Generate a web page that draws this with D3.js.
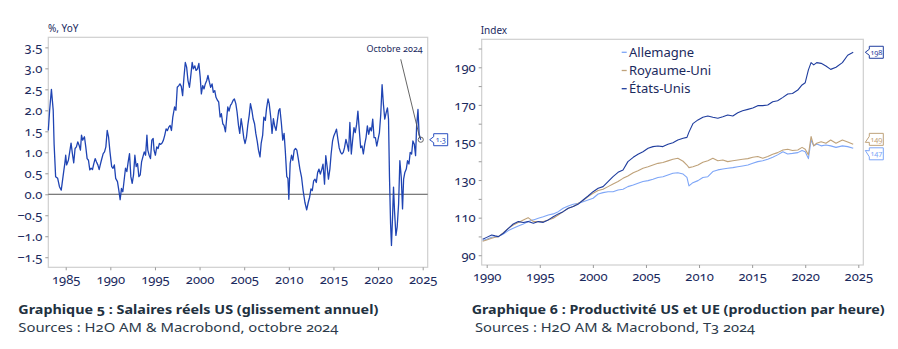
<!DOCTYPE html>
<html>
<head>
<meta charset="utf-8">
<script src="https://cdn.jsdelivr.net/npm/d3@7"></script>
<style>
  body { margin: 0; background: #fff; }
  svg text { font-family: "Noto Sans", "Open Sans", sans-serif; font-variant-numeric: oldstyle-nums; }
</style>
</head>
<body>
<svg id="chart" width="898" height="349"></svg>
<script>
// ---- graphique 5 : salaires réels US (glissement annuel, %)
const wageDates = [1983.05,1983.2,1983.4,1983.6,1983.7,1983.87,1984.1,1984.3,1984.5,1984.6,1984.8,1984.9,1985.0,1985.1,1985.3,1985.45,1985.6,1985.75,1985.9,
  1986.05,1986.2,1986.35,1986.5,1986.65,1986.77,1986.9,1987.1,1987.25,1987.4,1987.55,1987.7,1987.85,1988.0,1988.15,1988.3,1988.45,1988.6,1988.75,1988.87,
  1989.0,1989.2,1989.35,1989.5,1989.65,1989.8,1989.96,1990.15,1990.3,1990.45,1990.6,1990.8,1990.95,1991.1,1991.25,1991.4,1991.55,1991.7,1991.85,
  1992.0,1992.15,1992.3,1992.45,1992.6,1992.75,1992.9,1993.05,1993.2,1993.35,1993.5,1993.65,1993.8,1993.95,1994.1,1994.2,1994.35,1994.5,1994.65,1994.8,1994.9,
  1995.05,1995.2,1995.35,1995.5,1995.65,1995.8,1995.95,1996.1,1996.25,1996.4,1996.55,1996.7,1996.85,1997.0,1997.1,1997.2,1997.35,1997.5,1997.67,1997.8,1997.95,
  1998.1,1998.25,1998.4,1998.55,1998.7,1998.87,1999.0,1999.17,1999.3,1999.47,1999.6,1999.77,1999.92,2000.07,2000.2,2000.35,2000.5,2000.64,2000.8,2000.94,
  2001.1,2001.24,2001.4,2001.54,2001.7,2001.84,2002.0,2002.14,2002.3,2002.44,2002.6,2002.74,2002.9,2003.05,2003.16,2003.3,2003.46,2003.6,2003.76,2003.9,
  2004.06,2004.2,2004.36,2004.5,2004.66,2004.8,2004.96,2005.1,2005.26,2005.4,2005.56,2005.7,2005.86,2006.0,2006.16,2006.3,2006.47,2006.6,2006.77,2006.9,
  2007.07,2007.2,2007.37,2007.5,2007.67,2007.8,2007.97,2008.12,2008.27,2008.4,2008.57,2008.72,2008.87,2009.0,2009.17,2009.32,2009.47,2009.6,2009.77,2009.9,
  2010.0,2010.15,2010.3,2010.45,2010.6,2010.75,2010.9,2011.05,2011.24,2011.43,2011.6,2011.8,2012.0,2012.18,2012.33,2012.48,2012.63,2012.78,2012.93,
  2013.08,2013.23,2013.38,2013.53,2013.7,2013.83,2014.0,2014.14,2014.3,2014.44,2014.6,2014.74,2014.9,2015.04,2015.2,2015.34,2015.5,2015.64,2015.8,2015.94,
  2016.1,2016.24,2016.4,2016.54,2016.7,2016.84,2017.0,2017.14,2017.3,2017.44,2017.6,2017.74,2017.9,2018.05,2018.2,2018.35,2018.5,2018.65,2018.8,2018.95,
  2019.1,2019.25,2019.4,2019.55,2019.7,2019.85,2020.0,2020.15,2020.3,2020.45,2020.6,2020.75,2020.9,2021.05,2021.17,2021.28,2021.4,2021.5,2021.62,2021.73,
  2021.84,2022.0,2022.14,2022.3,2022.44,2022.6,2022.74,2022.86,2023.0,2023.16,2023.3,2023.46,2023.6,2023.76,2023.9,2024.06,2024.2,2024.32,2024.47,2024.6,2024.78];
const wageValues = [1.52,2.0,2.5,2.0,1.2,0.42,0.38,0.18,0.1,0.26,0.58,0.73,0.93,0.7,0.81,1.01,1.22,0.97,0.75,
  1.09,1.13,1.25,1.17,1.05,1.41,1.29,1.37,1.13,0.85,0.81,0.58,0.62,0.59,0.73,0.85,0.77,0.7,0.59,0.7,
  0.81,0.97,1.01,1.13,1.52,1.37,1.01,0.66,0.62,0.7,0.38,0.3,0.1,-0.13,0.14,0.06,0.34,0.62,0.54,
  0.77,0.97,0.42,0.26,0.46,0.93,0.66,0.73,0.42,0.46,0.77,0.89,1.01,0.93,1.41,1.05,0.93,0.85,1.29,1.33,1.05,
  0.93,1.13,1.09,1.21,1.19,1.22,1.29,1.41,1.56,1.52,1.6,1.64,1.52,1.84,1.96,2.08,2.0,2.55,2.59,2.63,2.57,
  2.35,2.79,3.14,3.03,2.71,2.55,2.79,3.14,2.99,3.06,2.95,2.99,3.12,2.79,2.39,2.59,2.51,2.63,2.71,2.83,
  2.67,2.55,2.63,2.43,2.47,2.31,2.24,2.2,1.84,1.92,1.68,1.64,1.49,1.84,2.08,1.98,2.12,2.16,2.24,2.27,
  2.16,1.96,1.64,1.45,1.8,1.6,1.33,1.21,1.37,1.64,1.88,2.16,2.0,1.8,1.68,1.45,1.25,1.05,0.89,1.21,
  1.41,1.84,1.76,2.04,2.27,2.16,1.84,1.45,1.8,1.64,1.52,1.76,2.0,2.04,1.68,1.29,1.45,1.05,0.42,0.38,
  -0.12,0.73,0.93,0.81,1.05,1.09,1.05,0.86,0.6,0.4,0.09,-0.19,-0.37,-0.19,-0.07,0.13,0.09,0.32,0.36,
  0.28,0.52,0.6,0.48,0.6,0.72,0.24,0.92,0.64,0.36,0.6,0.96,1.27,1.39,1.47,1.55,1.31,1.11,1.0,0.96,
  1.0,1.11,1.31,1.19,1.03,1.71,0.96,1.27,1.59,1.47,1.67,1.98,1.51,1.11,1.15,0.96,1.19,1.35,1.63,1.43,
  1.59,1.51,1.79,1.35,1.35,1.15,1.31,1.47,1.9,2.61,2.14,1.79,1.94,2.06,1.79,0.4,-0.7,-1.22,-0.55,0.17,
  -0.39,-0.98,-0.78,-0.23,0.8,0.4,-0.35,0.36,0.52,0.6,0.8,0.72,1.0,0.96,1.27,1.19,0.92,1.63,2.02,1.43,1.3];
const wageTicksY = [-1.5,-1.0,-0.5,0.0,0.5,1.0,1.5,2.0,2.5,3.0,3.5];
const wageTicksX = [1985,1990,1995,2000,2005,2010,2015,2020,2025];

// ---- graphique 6 : productivité (index)
const prodDates = [1989.62,1990.0,1990.47,1990.8,1991.1,1991.57,1992.04,1992.5,1992.98,1993.45,1993.9,1994.4,1994.86,1995.33,1995.8,1996.27,1996.74,
  1997.2,1997.68,1998.15,1998.6,1999.08,1999.55,2000.02,2000.5,2000.96,2001.43,2001.9,2002.37,2002.84,2003.3,2003.8,2004.25,2004.72,2005.2,2005.66,
  2006.13,2006.6,2007.07,2007.54,2008.0,2008.5,2008.86,2009.05,2009.42,2009.9,2010.36,2010.83,2011.3,2011.77,2012.24,2012.7,2013.18,2013.65,2014.1,
  2014.6,2015.06,2015.53,2016.0,2016.47,2016.94,2017.4,2017.9,2018.35,2018.8,2019.3,2019.7,2020.0,2020.3,2020.55,2020.8,2021.08,2021.5,2021.95,
  2022.4,2022.9,2023.5,2024.0,2024.52];
const prodUS = [98.5,99.5,100.8,100.3,99.9,101.7,104.3,106.6,107.9,107.4,107.9,107.0,107.9,107.5,108.8,110.5,112.0,
  113.2,115.0,115.9,117.1,119.4,121.5,123.8,125.6,126.5,129.2,131.8,134.1,135.4,139.8,142.1,143.7,145.1,146.9,147.8,
  148.1,147.8,149.0,149.9,151.3,152.2,152.7,155.5,160.0,162.0,163.4,164.1,163.4,162.9,163.7,164.6,164.1,165.8,166.9,
  167.6,168.3,169.6,169.6,169.9,171.7,172.2,174.0,175.8,176.1,177.9,180.6,181.8,188.6,192.5,191.3,192.5,192.1,190.7,
  188.9,190.0,192.5,196.4,198.0];
const prodUK = [97.4,98.1,99.0,99.6,99.9,102.0,104.3,106.1,107.4,108.8,110.0,107.9,107.9,107.9,108.8,109.7,111.4,
  113.2,115.0,115.9,117.6,119.1,121.2,123.0,124.4,125.1,126.5,127.9,129.2,130.9,132.2,133.9,135.0,136.3,137.1,138.0,
  138.9,139.3,140.2,141.1,141.6,140.0,138.0,136.6,137.1,138.0,139.5,140.3,141.6,140.3,140.7,139.8,140.3,140.7,141.1,
  141.4,142.1,142.5,141.6,142.5,143.7,144.6,146.0,146.4,145.7,146.0,147.4,146.4,143.4,153.2,148.2,149.6,150.4,149.6,
  151.3,149.6,151.3,150.2,149.0];
const prodDE = [97.8,98.5,99.6,99.8,99.9,101.3,103.1,104.3,105.6,106.6,107.9,108.8,109.7,110.5,111.4,112.0,113.2,
  115.0,116.2,117.1,117.6,118.5,119.4,120.3,122.6,123.3,123.8,123.8,124.7,125.1,126.5,127.4,128.3,129.2,129.7,130.4,
  131.4,131.8,132.7,133.6,133.9,133.2,131.4,126.9,128.6,129.7,131.4,131.8,134.5,135.4,135.9,136.3,136.6,137.1,137.5,
  138.0,138.9,139.8,140.3,141.1,142.1,143.4,145.1,143.9,144.2,144.6,145.7,145.1,141.4,151.3,148.2,149.2,148.2,148.7,
  148.2,147.4,148.2,147.8,146.9];
const prodNames = ["Allemagne", "Royaume-Uni", "États-Unis"];
const prodColors = ["#7ea6f7", "#bfa27a", "#1f3d9e"];
const prodTicksY = [90,110,130,150,170,190];
const prodTicksX = [1990,1995,2000,2005,2010,2015,2020,2025];

const navy = "#1b2a5e";
const frameColor = "#cfcfcf";
const svg = d3.select("#chart");

function styleAxis(g) {
  g.select(".domain").remove();
  g.selectAll(".tick line").attr("stroke", "#9a9a9a");
  g.selectAll(".tick text").attr("fill", navy).attr("font-size", "13px");
}

// value tag with a small pointer on the left
function tag(g, x, yPoint, yBox, label, color) {
  const w = 14, h = 12, n = 4;
  const p = d3.path();
  p.moveTo(x, yPoint);
  p.lineTo(x + n, yBox - 3);
  p.lineTo(x + n, yBox - h / 2);
  p.lineTo(x + n + w, yBox - h / 2);
  p.lineTo(x + n + w, yBox + h / 2);
  p.lineTo(x + n, yBox + h / 2);
  p.lineTo(x + n, yBox + 3);
  p.closePath();
  g.append("path").attr("d", p.toString()).attr("fill", "#fff").attr("stroke", color).attr("stroke-width", 1);
  g.append("text").attr("x", x + n + w / 2).attr("y", yBox).attr("dy", "0.35em")
    .attr("text-anchor", "middle").attr("font-size", "7.5px").attr("fill", color).text(label);
}

// ================= left chart =================
const L = {x0: 48.3, x1: 427.7, y0: 37.3, y1: 267.3};
const xW = d3.scaleLinear().domain([1983.05, 2025.56]).range([L.x0, L.x1]);
const yW = d3.scaleLinear().domain([-1.74, 3.74]).range([L.y1, L.y0]);
const gl = svg.append("g");

gl.append("rect").attr("x", L.x0).attr("y", L.y0).attr("width", L.x1 - L.x0).attr("height", L.y1 - L.y0)
  .attr("fill", "none").attr("stroke", frameColor).attr("stroke-width", 1.2);

gl.append("g").attr("transform", `translate(${L.x0},0)`)
  .call(d3.axisLeft(yW).tickValues(wageTicksY).tickSize(3).tickPadding(3).tickFormat(d3.format(".1f")))
  .call(styleAxis);
gl.append("g").attr("transform", `translate(0,${L.y1})`)
  .call(d3.axisBottom(xW).tickValues(wageTicksX).tickSize(3).tickPadding(4).tickFormat(d3.format("d")))
  .call(styleAxis);

gl.append("line").attr("x1", L.x0).attr("x2", L.x1).attr("y1", yW(0)).attr("y2", yW(0))
  .attr("stroke", "#555").attr("stroke-width", 1);

gl.append("path").datum(wageDates.map((d, i) => [d, wageValues[i]]))
  .attr("fill", "none").attr("stroke", "#1f44b3").attr("stroke-width", 1.3).attr("stroke-linejoin", "round")
  .attr("d", d3.line().x(d => xW(d[0])).y(d => yW(d[1])));

const lastW = [wageDates[wageDates.length - 1], wageValues[wageValues.length - 1]];
gl.append("line").attr("x1", xW(lastW[0]) - 20).attr("y1", L.y0 + 22).attr("x2", xW(lastW[0]) - 1).attr("y2", yW(lastW[1]) - 2)
  .attr("stroke", "#555").attr("stroke-width", 0.9);
gl.append("circle").attr("cx", xW(lastW[0])).attr("cy", yW(lastW[1])).attr("r", 2.6)
  .attr("fill", "none").attr("stroke", "#555").attr("stroke-width", 0.9);
gl.append("text").attr("x", xW(lastW[0]) + 2).attr("y", L.y0 + 15).attr("text-anchor", "end")
  .attr("font-size", "9px").attr("fill", navy).text("Octobre 2024");
tag(gl, L.x1 + 2, yW(lastW[1]), yW(lastW[1]), "1.3", "#2a4fc0");

gl.append("text").attr("x", 48).attr("y", 28).attr("dy", "0.35em").attr("font-size", "10px").attr("fill", navy).text("%, YoY");

// ================= right chart =================
const R = {x0: 481.7, x1: 863.3, y0: 39.3, y1: 265};
const xP = d3.scaleLinear().domain([1989.53, 2025.47]).range([R.x0, R.x1]);
const yP = d3.scaleLinear().domain([84.8, 204.9]).range([R.y1, R.y0]);
const gr = svg.append("g");

gr.append("rect").attr("x", R.x0).attr("y", R.y0).attr("width", R.x1 - R.x0).attr("height", R.y1 - R.y0)
  .attr("fill", "none").attr("stroke", frameColor).attr("stroke-width", 1.2);

gr.append("g").attr("transform", `translate(${R.x0},0)`)
  .call(d3.axisLeft(yP).tickValues(d3.range(90, 201, 10)).tickSize(3).tickPadding(3)
    .tickFormat(d => prodTicksY.includes(d) ? d : ""))
  .call(styleAxis);
gr.append("g").attr("transform", `translate(0,${R.y1})`)
  .call(d3.axisBottom(xP).tickValues(prodTicksX).tickSize(3).tickPadding(4).tickFormat(d3.format("d")))
  .call(styleAxis);

const prodSeries = [prodDE, prodUK, prodUS];
prodSeries.forEach((s, k) => {
  gr.append("path").datum(prodDates.map((d, i) => [d, s[i]]))
    .attr("fill", "none").attr("stroke", prodColors[k]).attr("stroke-width", 1.1).attr("stroke-linejoin", "round")
    .attr("d", d3.line().x(d => xP(d[0])).y(d => yP(d[1])));
});

// legend
prodNames.forEach((name, k) => {
  const y = 52.3 + k * 18.2;
  gr.append("line").attr("x1", 621.7).attr("x2", 626.7).attr("y1", y).attr("y2", y)
    .attr("stroke", prodColors[k]).attr("stroke-width", 1.3);
  gr.append("text").attr("x", 629).attr("y", y).attr("dy", "0.35em").attr("font-size", "13px")
    .attr("fill", navy).text(name);
});

// end tags
const endIdx = prodDates.length - 1;
const tagOffsets = [5.5, -5, 0];
prodSeries.forEach((s, k) => {
  const v = s[endIdx];
  tag(gr, R.x1 + 2, yP(v) + tagOffsets[k] * 0.4, yP(v) + tagOffsets[k], Math.round(v), prodColors[k]);
});

gr.append("text").attr("x", 480.7).attr("y", 30).attr("dy", "0.35em").attr("font-size", "10px").attr("fill", navy).text("Index");

// ================= captions =================
const captions = [
  {x: 18.3, y: 310, text: "Graphique 5 : Salaires réels US (glissement annuel)", w: 360, bold: true},
  {x: 18.3, y: 327.5, text: "Sources : H2O AM & Macrobond, octobre 2024", w: 320, bold: false},
  {x: 471.7, y: 310, text: "Graphique 6 : Productivité US et UE (production par heure)", w: 413, bold: true},
  {x: 475, y: 327.5, text: "Sources : H2O AM & Macrobond, T3 2024", w: 280, bold: false}
];
captions.forEach(c => {
  svg.append("text").attr("x", c.x).attr("y", c.y).attr("dy", "0.35em")
    .attr("font-size", "12.5px").attr("font-weight", c.bold ? 700 : 400)
    .attr("fill", c.bold ? "#22313f" : "#2c3a4a")
    .attr("textLength", c.w).attr("lengthAdjust", "spacingAndGlyphs")
    .text(c.text);
});
</script>
</body>
</html>
